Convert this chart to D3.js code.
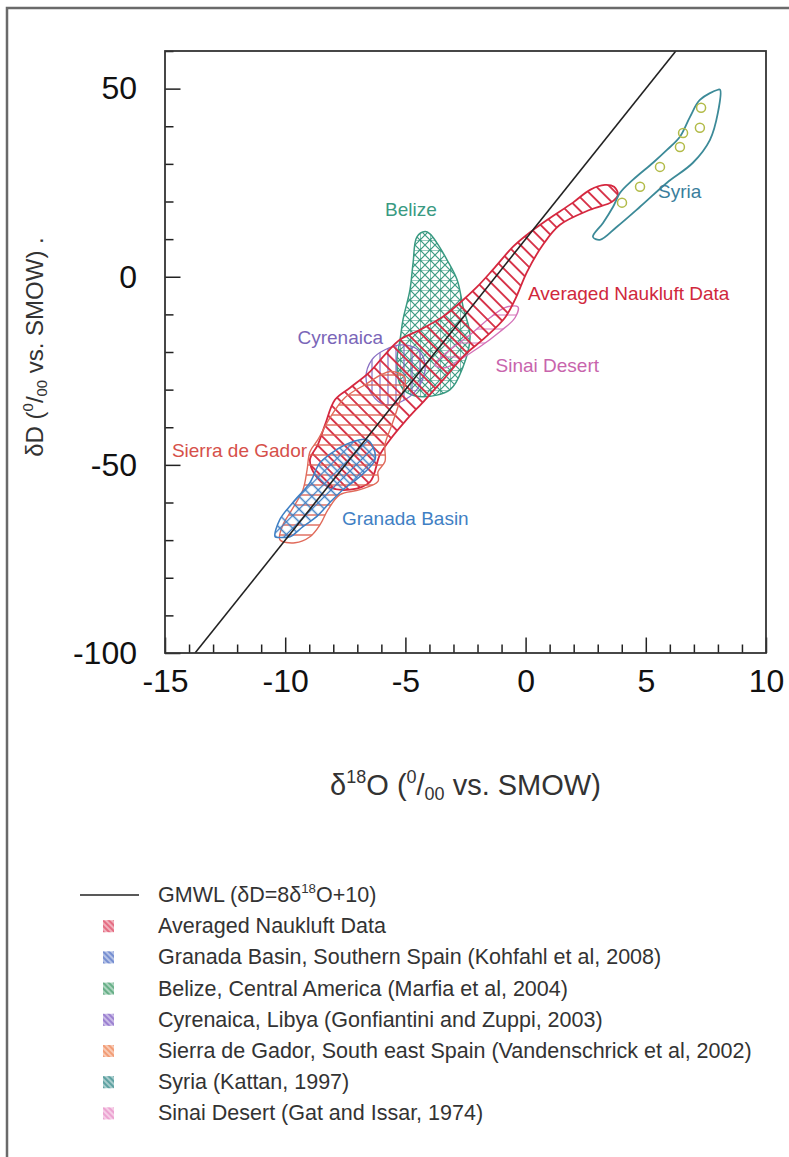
<!DOCTYPE html>
<html>
<head>
<meta charset="utf-8">
<script src="https://cdn.jsdelivr.net/npm/d3@7"></script>
<style>
  body { margin: 0; background: #fff; }
  svg { display: block; }
  text { font-family: "Liberation Sans", Arial, sans-serif; }
</style>
</head>
<body>
<svg id="chart" width="789" height="1157"></svg>
<script>
// Axis domains and ticks (per mil vs. SMOW)
const xDomain = [-15, 10];
const yDomain = [-100, 60];
const xMajorTicks = [-15, -10, -5, 0, 5, 10];
const yMajorTicks = [-100, -50, 0, 50];

// Global Meteoric Water Line: dD = 8 * d18O + 10
const gmwlSlope = 8;
const gmwlIntercept = 10;

// Field outlines, [d18O, dD]
const naukluftOutline = [
  [-8.97,-48.6],[-8.64,-44.6],[-8.34,-39.3],[-7.93,-32.7],[-7.30,-29.5],[-6.47,-25.2],[-5.85,-20.7],
  [-5.22,-16.7],[-4.39,-14.1],[-3.44,-10.6],[-2.73,-6.9],[-2.02,-2.7],[-1.36,1.9],[-0.52,8.0],
  [0.06,11.2],[0.89,15.1],[1.97,19.7],[2.68,23.1],[3.30,24.4],[3.68,23.9],[3.84,21.8],[3.59,19.9],
  [2.68,17.8],[1.43,13.8],[0.72,8.5],[0.06,1.3],[-0.44,-6.1],[-0.86,-10.9],[-1.69,-16.2],
  [-2.52,-20.7],[-3.35,-26.8],[-4.18,-32.7],[-5.02,-38.5],[-5.64,-43.3],[-6.06,-47.3],
  [-6.47,-54.5],[-7.30,-56.6],[-8.14,-56.0],[-8.76,-52.6]
];
const granadaOutline = [
  [-10.42,-69.1],[-10.22,-64.5],[-9.68,-60.0],[-8.97,-54.7],[-8.55,-49.4],[-7.85,-45.9],[-7.30,-44.1],
  [-6.60,-43.3],[-6.35,-45.2],[-6.26,-48.6],[-6.89,-53.1],[-7.60,-56.6],[-8.14,-60.0],[-8.68,-63.7],
  [-9.26,-66.4],[-9.80,-69.1],[-10.22,-69.3]
];
const sierraOutline = [
  [-10.22,-69.9],[-10.09,-65.9],[-9.72,-61.9],[-9.26,-56.6],[-9.09,-51.3],[-8.97,-46.5],[-8.64,-43.3],
  [-8.14,-37.5],[-7.51,-32.1],[-6.68,-28.7],[-5.64,-25.2],[-5.02,-26.8],[-5.22,-32.7],[-5.56,-39.3],
  [-5.85,-44.6],[-5.85,-49.1],[-6.14,-51.8],[-6.14,-54.4],[-6.89,-56.6],[-7.72,-57.9],[-8.22,-61.9],
  [-8.55,-65.9],[-8.97,-69.1],[-9.59,-70.7]
];
const belizeOutline = [
  [-4.18,12.0],[-4.52,10.6],[-4.68,3.7],[-4.81,-3.5],[-5.10,-11.4],[-5.22,-16.7],[-5.35,-22.0],
  [-5.22,-28.7],[-4.93,-30.8],[-4.27,-31.9],[-3.14,-30.0],[-2.60,-23.9],[-2.31,-15.9],[-2.60,-8.0],
  [-2.85,-0.8],[-3.27,4.5],[-3.69,9.0],[-3.98,11.4]
];
const cyrenaicaOutline = [
  [-6.39,-22.0],[-5.85,-19.4],[-5.14,-18.1],[-4.48,-19.4],[-4.18,-23.4],[-4.39,-28.7],[-5.02,-32.7],
  [-5.85,-34.0],[-6.39,-31.3],[-6.64,-26.8]
];
const sinaiOutline = [
  [-3.77,-23.4],[-3.14,-19.4],[-2.31,-15.4],[-1.48,-10.9],[-0.86,-8.2],[-0.32,-8.0],[-0.44,-10.9],
  [-1.07,-14.6],[-1.90,-18.6],[-2.73,-22.0],[-3.35,-24.2]
];
const syriaOutline = [
  [8.00,49.7],[7.25,47.0],[6.84,42.5],[6.42,37.2],[5.88,33.7],[5.30,30.3],[4.47,25.8],[3.93,22.3],
  [3.64,18.6],[3.22,14.3],[2.80,10.6],[3.09,9.8],[3.80,13.3],[4.76,18.6],[5.88,25.0],[6.96,30.3],
  [7.67,36.4],[8.00,43.6],[8.09,49.7]
];
const syriaSamples = [
  [7.30,44.9],[7.25,39.6],[6.55,38.2],[6.42,34.5],[5.59,29.2],[4.76,23.9],[4.01,19.7]
];

// Field labels: [text, d18O, dD, anchor]
const fieldLabels = [
  ["Belize", -4.77, 16.2, "middle"],
  ["Syria", 5.51, 20.8, "start"],
  ["Averaged Naukluft Data", 0.1, -6.3, "start"],
  ["Cyrenaica", -5.93, -17.8, "end"],
  ["Sinai Desert", -1.25, -25.2, "start"],
  ["Sierra de Gador", -9.09, -47.8, "end"],
  ["Granada Basin", -7.64, -66.1, "start"]
];

// Legend entries
const legendNames = [
  "Averaged Naukluft Data",
  "Granada Basin, Southern Spain (Kohfahl et al, 2008)",
  "Belize, Central America (Marfia et al, 2004)",
  "Cyrenaica, Libya (Gonfiantini and Zuppi, 2003)",
  "Sierra de Gador, South east Spain (Vandenschrick et al, 2002)",
  "Syria (Kattan, 1997)",
  "Sinai Desert (Gat and Issar, 1974)"
];
const legendColors = ["#e0506a", "#5a78c8", "#4aa070", "#8868c8", "#f08a5a", "#3d8f8f", "#e890c8"];

// ---------------------------------------------------------------
const svg = d3.select("#chart");
const plot = { left: 165, right: 766, top: 51, bottom: 653 };
const x = d3.scaleLinear().domain(xDomain).range([plot.left, plot.right]);
const y = d3.scaleLinear().domain(yDomain).range([plot.bottom, plot.top]);

// outer border (left and top edges fall inside the page)
svg.append("rect")
  .attr("x", 7).attr("y", 8).attr("width", 820).attr("height", 1180)
  .attr("fill", "none").attr("stroke", "#6a6a6a").attr("stroke-width", 2.5);

// hatch patterns
const defs = svg.append("defs");
function hatch(id, color, size, path, width, rotate) {
  const p = defs.append("pattern")
    .attr("id", id).attr("patternUnits", "userSpaceOnUse")
    .attr("width", size).attr("height", size);
  if (rotate) p.attr("patternTransform", `rotate(${rotate})`);
  p.append("path").attr("d", path)
    .attr("stroke", color).attr("stroke-width", width).attr("fill", "none");
}
hatch("h-nauk", "#d5283f", 9.5, "M0,4.75H9.5", 1.8, 45);
hatch("h-gran", "#3f7fc4", 9, "M0,4.5H9M4.5,0V9", 1.3, 45);
hatch("h-sierra", "#dc5a4c", 10, "M0,5H10", 1.3, 0);
hatch("h-bel", "#3a9a82", 10, "M0,0H10M0,0V10M0,0L10,10M10,0L0,10", 1.2, 0);
hatch("h-cyr", "#7a62bc", 8, "M4,0V8", 1.1, 0);
hatch("h-sinai", "#d472b8", 14, "M0,7H14", 1.0, 0);
legendColors.forEach((c, i) => hatch("h-leg" + i, c, 4, "M0,2H4", 1.4, 45));

const clip = defs.append("clipPath").attr("id", "plotclip");
clip.append("rect").attr("x", plot.left).attr("y", plot.top)
  .attr("width", plot.right - plot.left).attr("height", plot.bottom - plot.top);

const area = d3.line().x(d => x(d[0])).y(d => y(d[1]))
  .curve(d3.curveCatmullRomClosed.alpha(0.5));

const g = svg.append("g").attr("clip-path", "url(#plotclip)");
function field(pts, fillId, stroke, sw) {
  g.append("path").datum(pts).attr("d", area)
    .attr("fill", fillId ? `url(#${fillId})` : "none")
    .attr("stroke", stroke).attr("stroke-width", sw);
}
field(belizeOutline, "h-bel", "#3a9a82", 1.5);
field(cyrenaicaOutline, "h-cyr", "#8a70c4", 1.3);
field(sinaiOutline, "h-sinai", "#d472b8", 1.4);
field(naukluftOutline, "h-nauk", "#d5283f", 1.8);
field(sierraOutline, "h-sierra", "#e06a5a", 1.4);
field(granadaOutline, "h-gran", "#3f7fc4", 1.5);
field(syriaOutline, null, "#3c8a98", 1.8);

g.selectAll("circle.syria").data(syriaSamples).join("circle")
  .attr("class", "syria")
  .attr("cx", d => x(d[0])).attr("cy", d => y(d[1])).attr("r", 4.5)
  .attr("fill", "none").attr("stroke", "#b2bb48").attr("stroke-width", 1.5);

// GMWL
const gmwlEnds = yDomain.map(v => [(v - gmwlIntercept) / gmwlSlope, v]);
g.append("path").datum(gmwlEnds)
  .attr("d", d3.line().x(d => x(d[0])).y(d => y(d[1])))
  .attr("stroke", "#222").attr("stroke-width", 1.6).attr("fill", "none");

// field labels
const labelColors = {
  "Belize": "#3a9a82", "Syria": "#3a7e9c", "Averaged Naukluft Data": "#d0283c",
  "Cyrenaica": "#7a66b8", "Sinai Desert": "#c864ac", "Sierra de Gador": "#d6504a",
  "Granada Basin": "#3f7fc4"
};
svg.selectAll("text.flabel").data(fieldLabels).join("text")
  .attr("class", "flabel")
  .attr("x", d => x(d[1])).attr("y", d => y(d[2]))
  .attr("text-anchor", d => d[3])
  .attr("font-size", 19)
  .attr("fill", d => labelColors[d[0]])
  .text(d => d[0]);

// axes: ticks point inward
const xMinor = d3.range(xDomain[0], xDomain[1] + 1, 1).filter(v => !xMajorTicks.includes(v));
const yMinor = d3.range(yDomain[0], yDomain[1] + 1, 10).filter(v => !yMajorTicks.includes(v));
const fmt = v => String(v);

svg.append("g").attr("transform", `translate(0,${plot.bottom})`)
  .call(d3.axisBottom(x).tickValues(xMajorTicks).tickSize(-15.5).tickPadding(16).tickFormat(fmt));
svg.append("g").attr("transform", `translate(0,${plot.bottom})`)
  .call(d3.axisBottom(x).tickValues(xMinor).tickSize(-8.5).tickFormat(""));
svg.append("g").attr("transform", `translate(${plot.left},0)`)
  .call(d3.axisLeft(y).tickValues(yMajorTicks).tickSize(-15.5).tickPadding(28).tickFormat(fmt));
svg.append("g").attr("transform", `translate(${plot.left},0)`)
  .call(d3.axisLeft(y).tickValues(yMinor).tickSize(-8.5).tickFormat(""));

svg.selectAll(".domain").remove();
svg.selectAll(".tick line").attr("stroke", "#222").attr("stroke-width", 1.5);
svg.selectAll(".tick text").attr("font-size", 32).attr("fill", "#111")
  .attr("font-family", '"Liberation Sans", Arial, sans-serif');

svg.append("rect")
  .attr("x", plot.left).attr("y", plot.top)
  .attr("width", plot.right - plot.left).attr("height", plot.bottom - plot.top)
  .attr("fill", "none").attr("stroke", "#333").attr("stroke-width", 1.8);

// rich text helper for super/subscripts
function rich(sel, segs, size) {
  let shift = 0;
  segs.forEach(s => {
    const target = s.sup ? -0.42 * size : s.sub ? 0.18 * size : 0;
    sel.append("tspan")
      .attr("dy", target - shift)
      .attr("font-size", s.sup || s.sub ? size * 0.62 : size)
      .text(s.t);
    shift = target;
  });
}

const xTitle = svg.append("text")
  .attr("x", (plot.left + plot.right) / 2).attr("y", 795)
  .attr("text-anchor", "middle").attr("fill", "#333");
rich(xTitle, [{t:"δ"},{t:"18",sup:true},{t:"O ("},{t:"0",sup:true},{t:"/"},{t:"00",sub:true},{t:" vs. SMOW)"}], 29);

const yTitle = svg.append("text")
  .attr("transform", `translate(43,${(plot.top + plot.bottom) / 2 - 5}) rotate(-90)`)
  .attr("text-anchor", "middle").attr("fill", "#333");
rich(yTitle, [{t:"δD ("},{t:"0",sup:true},{t:"/"},{t:"00",sub:true},{t:" vs.  SMOW)  ."}], 24);

// legend
const legTop = 902, legStep = 31.2, legText = 158, legFont = 21.5;
svg.append("line").attr("x1", 80).attr("x2", 139).attr("y1", legTop - 7).attr("y2", legTop - 7)
  .attr("stroke", "#222").attr("stroke-width", 1.4);
const gmwlLabel = svg.append("text").attr("x", legText).attr("y", legTop)
  .attr("fill", "#333").attr("font-size", legFont);
rich(gmwlLabel, [{t:"GMWL (δD=8δ"},{t:"18",sup:true},{t:"O+10)"}], legFont);

const rows = svg.selectAll("g.leg").data(legendNames).join("g")
  .attr("class", "leg")
  .attr("transform", (d, i) => `translate(0,${legTop + legStep * (i + 1)})`);
rows.append("rect").attr("x", 103).attr("y", -13).attr("width", 11).attr("height", 12)
  .attr("fill", (d, i) => legendColors[i]).attr("opacity", 0.45);
rows.append("rect").attr("x", 103).attr("y", -13).attr("width", 11).attr("height", 12)
  .attr("fill", (d, i) => `url(#h-leg${i})`);
rows.append("text").attr("x", legText).attr("y", 0)
  .attr("fill", "#333").attr("font-size", legFont).text(d => d);
</script>
</body>
</html>
